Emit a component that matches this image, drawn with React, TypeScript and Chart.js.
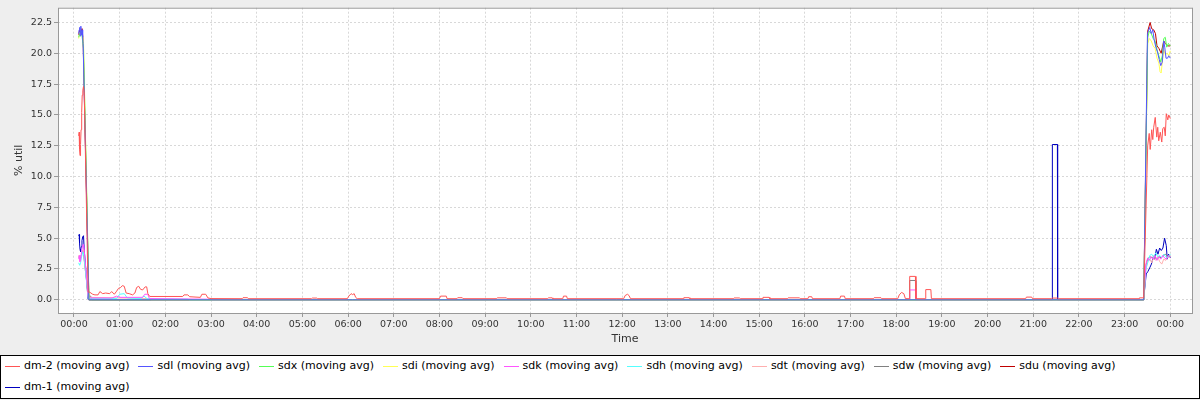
import React, { useEffect, useRef } from "react";
import { Chart, registerables } from "chart.js";

Chart.register(...registerables);

// ---------- labels / colours ----------
const seriesNames = [
  "dm-2 (moving avg)",
  "sdl (moving avg)",
  "sdx (moving avg)",
  "sdi (moving avg)",
  "sdk (moving avg)",
  "sdh (moving avg)",
  "sdt (moving avg)",
  "sdw (moving avg)",
  "sdu (moving avg)",
  "dm-1 (moving avg)",
];
const seriesColors = [
  "#FF5555",
  "#5555FF",
  "#55FF55",
  "#FFFF55",
  "#FF55FF",
  "#55FFFF",
  "#FFAFAF",
  "#808080",
  "#C00000",
  "#0000C0",
];

// x axis: minutes after midnight
const xTickMinutes = [0, 60, 120, 180, 240, 300, 360, 420, 480, 540, 600, 660, 720, 780, 840, 900, 960, 1020, 1080, 1140, 1200, 1260, 1320, 1380, 1440];
const xTickLabels = ["00:00", "01:00", "02:00", "03:00", "04:00", "05:00", "06:00", "07:00", "08:00", "09:00", "10:00", "11:00", "12:00", "13:00", "14:00", "15:00", "16:00", "17:00", "18:00", "19:00", "20:00", "21:00", "22:00", "23:00", "00:00"];
const yTickValues = [0, 2.5, 5, 7.5, 10, 12.5, 15, 17.5, 20, 22.5];
const yTickLabels = ["0.0", "2.5", "5.0", "7.5", "10.0", "12.5", "15.0", "17.5", "20.0", "22.5"];

// ---------- series data (minutes, % util) ----------
const dm2Time = [6.2, 6.8, 7.3, 7.9, 8.6, 9.3, 10.1, 10.8, 11.6, 12.5, 13.4, 18.6,
  20.6, 24.6, 27.5, 31.6, 34, 37.7, 41.6, 46.9, 49.5, 53, 56, 58.5, 61.3, 63.5, 66, 68.5, 72.5, 77, 80, 82.3, 85, 87.5, 90.2, 93.5, 95.5, 97, 99.5, 142.8, 144.5, 149.5, 152, 166, 168, 173, 176, 180,
  221, 222, 228, 229, 312, 313, 319, 320, 359, 361, 364, 366, 368, 370, 372, 480, 481.5, 489, 490, 503, 504, 510, 511, 555, 556, 568, 569, 622, 623, 628, 629, 642, 643, 647, 648,
  722, 724, 727, 729, 731, 800, 801, 808, 809, 866, 867, 874, 875, 904, 905, 913, 914, 937, 938, 953, 954, 964, 965, 969, 970, 1006, 1007, 1012, 1013, 1050, 1051, 1060, 1061,
  1082, 1084, 1087, 1090, 1092, 1097, 1097.7, 1105.2, 1105.9, 1118, 1118.8, 1125.5, 1126.2, 1250, 1251, 1258, 1259, 1284, 1285, 1292, 1293, 1399, 1399.5, 1405,
  1410.3, 1412.3, 1413.6, 1415.6, 1417, 1418.2, 1420.2, 1422.2, 1423.5, 1424.8, 1426.8, 1428.8, 1430.1, 1432, 1433.4, 1434.7, 1436.7, 1438, 1440];
const dm2Util = [13.3, 13.6, 12.2, 11.7, 12.6, 13.8, 15.2, 16.6, 17.0, 17.3, 16.9, 0.62,
  0.62, 0.45, 0.4, 0.4, 0.67, 0.5, 0.55, 0.5, 0.67, 0.45, 0.7, 0.93, 1.0, 1.15, 1.1, 0.55, 0.5, 0.4, 0.55, 1.0, 1.1, 0.85, 0.8, 1.05, 1.05, 0.5, 0.27, 0.27, 0.4, 0.4, 0.25, 0.2, 0.45, 0.45, 0.15, 0.1,
  0.09, 0.17, 0.17, 0.09, 0.09, 0.14, 0.14, 0.09, 0.09, 0.3, 0.5, 0.42, 0.5, 0.2, 0.09, 0.09, 0.3, 0.3, 0.09, 0.09, 0.17, 0.17, 0.09, 0.09, 0.16, 0.16, 0.09, 0.09, 0.16, 0.16, 0.09, 0.09, 0.3, 0.3, 0.09,
  0.09, 0.35, 0.45, 0.35, 0.09, 0.09, 0.17, 0.17, 0.09, 0.09, 0.15, 0.15, 0.09, 0.09, 0.2, 0.2, 0.09, 0.09, 0.16, 0.16, 0.09, 0.09, 0.25, 0.25, 0.09, 0.09, 0.3, 0.3, 0.09, 0.09, 0.17, 0.17, 0.09,
  0.09, 0.4, 0.6, 0.5, 0.1, 0.09, 1.9, 1.9, 0.09, 0.09, 0.83, 0.83, 0.09, 0.09, 0.22, 0.22, 0.09, 0.09, 0.14, 0.14, 0.09, 0.09, 0.16, 0.16,
  12.5, 13.5, 12.2, 13.8, 13.0, 14.0, 14.8, 13.2, 14.0, 12.9, 13.6, 12.8, 13.9, 14.0, 13.3, 15.1, 14.6, 15.0, 14.7];

const sdlTime = [6.2, 6.8, 7.5, 8.2, 9.0, 9.8, 10.6, 11.4, 12.0, 19.5, 1405.1, 1410.0, 1413.0, 1415.0, 1417.0, 1418.8, 1421.0, 1423.2, 1425.4, 1427.5, 1429.5, 1431.4, 1432.7, 1434.4, 1436.3, 1438.0, 1440.0];
const sdlUtil = [21.6, 21.9, 22.1, 21.4, 22.2, 21.5, 21.9, 21.3, 20.8, 0.0, 0.0, 21.6, 22.1, 21.6, 21.9, 21.1, 20.5, 20.1, 19.5, 19.0, 19.3, 21.0, 20.5, 19.6, 19.6, 19.8, 19.6];

const sdxTime = [6.2, 7.5, 9.0, 10.6, 12.5, 19.7, 1405.1, 1410.3, 1412.5, 1415.0, 1417.5, 1420.0, 1422.5, 1425.0, 1427.5, 1429.5, 1431.4, 1433.4, 1435.3, 1437.5, 1440.0];
const sdxUtil = [21.3, 21.6, 21.8, 21.4, 20.4, 0.0, 0.0, 21.3, 21.8, 21.6, 21.2, 21.0, 20.3, 19.8, 19.3, 19.8, 21.2, 21.3, 20.5, 20.8, 20.6];

const sdiTime = [6.2, 7.5, 9.0, 10.6, 12.5, 19.6, 1405.1, 1410.3, 1412.5, 1415.0, 1417.5, 1420.0, 1422.5, 1425.0, 1426.5, 1428.0, 1429.5, 1431.4, 1433.4, 1436.0, 1438.0, 1440.0];
const sdiUtil = [21.2, 21.7, 21.5, 21.8, 20.9, 0.0, 0.0, 20.8, 21.2, 21.0, 20.6, 20.4, 19.6, 19.2, 18.5, 18.4, 19.3, 20.3, 19.9, 20.0, 19.8, 20.2];

const sdkTime = [6.2, 7.0, 7.8, 8.6, 9.8, 11.0, 12.2, 13.2, 18.8, 50, 56, 60, 90, 93, 97, 99, 180, 181, 1097, 1097.7, 1105.2, 1105.9, 1405.1, 1408.0, 1410.3, 1412.5, 1415.0, 1417.5, 1420.0, 1422.5, 1425.0, 1427.5, 1430.0, 1432.5, 1435.0, 1437.5, 1440.0];
const sdkUtil = [3.3, 3.6, 3.1, 3.2, 3.8, 4.3, 4.5, 4.2, 0.15, 0.15, 0.3, 0.2, 0.2, 0.45, 0.45, 0.1, 0.05, 0.0, 0.0, 0.8, 0.8, 0.0, 0.0, 2.9, 3.4, 3.2, 3.5, 3.3, 3.6, 3.2, 3.5, 3.3, 3.6, 3.4, 3.3, 3.6, 3.5];

const sdhTime = [6.2, 7.5, 8.6, 10.0, 11.5, 13.0, 18.8, 56, 60, 66, 70, 88, 92, 96, 150, 151, 1405.1, 1408.0, 1410.3, 1413.0, 1415.6, 1418.0, 1420.9, 1423.5, 1426.0, 1428.8, 1431.4, 1434.0, 1436.7, 1440.0];
const sdhUtil = [3.0, 2.8, 3.0, 3.5, 3.9, 3.6, 0.1, 0.1, 0.45, 0.5, 0.15, 0.1, 0.3, 0.1, 0.05, 0.0, 0.0, 2.5, 3.0, 3.6, 3.7, 3.5, 3.8, 3.5, 3.6, 3.4, 3.7, 3.5, 3.4, 3.7];

const sdtTime = [6.2, 7.5, 9.0, 11.0, 12.5, 18.8, 100, 101, 1405.1, 1408.0, 1410.3, 1413.0, 1415.6, 1418.0, 1420.9, 1423.5, 1426.0, 1428.8, 1431.4, 1434.0, 1436.7, 1440.0];
const sdtUtil = [3.6, 3.4, 3.5, 3.9, 4.1, 0.2, 0.1, 0.0, 0.0, 2.6, 3.1, 3.3, 3.0, 3.4, 3.2, 3.5, 3.1, 2.9, 3.3, 3.2, 3.5, 3.4];

const sdwTime = [6.2, 8.0, 10.0, 12.0, 18.8, 22.0, 23.0, 24.0, 1097, 1097.7, 1105.2, 1105.9, 1405.1, 1408.0, 1410.3, 1413.0, 1416.0, 1419.0, 1422.0, 1425.0, 1428.0, 1431.0, 1434.0, 1437.0, 1440.0];
const sdwUtil = [3.5, 3.3, 3.7, 4.0, 0.3, 0.3, 0.05, 0.0, 0.0, 1.57, 1.57, 0.0, 0.0, 2.8, 3.3, 3.5, 3.4, 3.6, 3.3, 3.5, 3.4, 3.6, 3.7, 3.5, 3.6];

const sduTime = [6.2, 7.5, 9.0, 10.6, 12.0, 19.6, 1405.1, 1410.3, 1413.5, 1415.5, 1418.2, 1420.5, 1422.5, 1425.0, 1428.0, 1431.4, 1433.5, 1436.5, 1440.0];
const sduUtil = [21.5, 21.9, 21.6, 22.0, 21.0, 0.0, 0.0, 21.8, 22.5, 22.0, 21.9, 21.6, 20.6, 20.4, 20.0, 21.0, 20.8, 20.6, 20.6];

const dm1Time = [6.2, 6.8, 7.3, 7.9, 8.6, 9.5, 10.5, 11.4, 12.5, 13.5, 15.5, 18.4, 19.5, 1284.8, 1285.1, 1291.7, 1292.0, 1405.1, 1406.2, 1408.4, 1410.6, 1413.0, 1415.2, 1417.3, 1419.5, 1421.7, 1423.8, 1426.0, 1428.2, 1430.3, 1432.5, 1434.7, 1436.0, 1437.7, 1440.0];
const dm1Util = [5.2, 5.3, 4.6, 4.1, 3.9, 4.3, 4.8, 5.1, 5.2, 4.0, 2.5, 0.1, 0.0, 0.0, 12.6, 12.6, 0.0, 0.0, 0.8, 2.1, 2.3, 2.6, 2.9, 3.4, 3.3, 4.1, 3.7, 4.2, 4.0, 4.2, 5.0, 4.4, 3.3, 3.7, 3.4];

const seriesTimes = [dm2Time, sdlTime, sdxTime, sdiTime, sdkTime, sdhTime, sdtTime, sdwTime, sduTime, dm1Time];
const seriesUtils = [dm2Util, sdlUtil, sdxUtil, sdiUtil, sdkUtil, sdhUtil, sdtUtil, sdwUtil, sduUtil, dm1Util];

const FONT = "'DejaVu Sans', Verdana, sans-serif";

const plotFrame = {
  id: "plotFrame",
  beforeDraw(chart: any) {
    const { ctx, chartArea } = chart;
    ctx.save();
    ctx.fillStyle = "#FFFFFF";
    ctx.fillRect(chartArea.left, chartArea.top, chartArea.right - chartArea.left, chartArea.bottom - chartArea.top);
    ctx.restore();
  },
  afterDraw(chart: any) {
    const { ctx, chartArea } = chart;
    ctx.save();
    ctx.strokeStyle = "#999999";
    ctx.lineWidth = 1;
    ctx.strokeRect(chartArea.left + 0.5, chartArea.top + 0.5, chartArea.right - chartArea.left, chartArea.bottom - chartArea.top);
    ctx.restore();
  },
};

export default function App() {
  const canvasRef = useRef<HTMLCanvasElement | null>(null);

  useEffect(() => {
    const canvas = canvasRef.current;
    if (!canvas) return;
    const datasets = seriesNames.map((name, i) => ({
      label: name,
      data: seriesTimes[i].map((t, j) => ({ x: t, y: seriesUtils[i][j] })),
      borderColor: seriesColors[i],
      backgroundColor: seriesColors[i],
      borderWidth: 1,
      pointRadius: 0,
      fill: false,
      tension: 0,
    }));

    const chart = new Chart(canvas, {
      type: "line",
      data: { datasets },
      options: {
        responsive: false,
        animation: false,
        layout: { padding: { left: 0, top: 4, right: 8, bottom: 0 } },
        plugins: { legend: { display: false }, tooltip: { enabled: false } },
        scales: {
          x: {
            type: "linear",
            min: -21,
            max: 1468.5,
            afterBuildTicks: (scale: any) => {
              scale.ticks = xTickMinutes.map((v) => ({ value: v }));
            },
            afterFit: (scale: any) => {
              scale.height = 42;
            },
            ticks: {
              autoSkip: false,
              maxRotation: 0,
              padding: 2,
              color: "#333333",
              font: { family: FONT, size: 9.5 },
              callback: (_v: any, i: number) => xTickLabels[i],
            },
            grid: {
              color: "#D8D8D8",
              tickLength: 4,
              tickColor: "#999999",
              tickBorderDash: [],
            },
            border: { display: false, dash: [2, 2] },
            title: {
              display: true,
              text: "Time",
              color: "#333333",
              font: { family: FONT, size: 11 },
              padding: { top: 0, bottom: 9 },
            },
          },
          y: {
            type: "linear",
            min: -1.07,
            max: 23.7,
            afterBuildTicks: (scale: any) => {
              scale.ticks = yTickValues.map((v) => ({ value: v }));
            },
            afterFit: (scale: any) => {
              scale.width = 58;
            },
            ticks: {
              padding: 2,
              color: "#333333",
              font: { family: FONT, size: 9.5 },
              callback: (_v: any, i: number) => yTickLabels[i],
            },
            grid: {
              color: "#D8D8D8",
              tickLength: 4,
              tickColor: "#999999",
              tickBorderDash: [],
            },
            border: { display: false, dash: [2, 2] },
            title: {
              display: true,
              text: "% util",
              color: "#333333",
              font: { family: FONT, size: 11 },
              padding: { top: 12.4, bottom: 0 },
            },
          },
        },
      } as any,
      plugins: [plotFrame],
    });
    return () => chart.destroy();
  }, []);

  return (
    <div
      style={{
        position: "fixed",
        left: 0,
        top: 0,
        width: 1200,
        height: 400,
        background: "#EEEEEE",
        overflow: "hidden",
      }}
    >
      <canvas ref={canvasRef} width={1200} height={355} style={{ display: "block", width: 1200, height: 355 }} />
      <div
        style={{
          position: "absolute",
          left: 0,
          top: 355,
          width: 1200,
          height: 44,
          boxSizing: "border-box",
          border: "1px solid #000000",
          background: "#FFFFFF",
          padding: "3px 0 0 4px",
          display: "flex",
          flexWrap: "wrap",
          alignContent: "flex-start",
          columnGap: 9,
          rowGap: 7,
          fontFamily: FONT,
          fontSize: 11,
          lineHeight: "14px",
          color: "#000000",
        }}
      >
        {seriesNames.map((name, i) => (
          <div key={name} style={{ display: "flex", alignItems: "center", height: 14, whiteSpace: "nowrap" }}>
            <span style={{ display: "inline-block", width: 15, height: 1, background: seriesColors[i], marginRight: 4 }} />
            <span>{name}</span>
          </div>
        ))}
      </div>
    </div>
  );
}
